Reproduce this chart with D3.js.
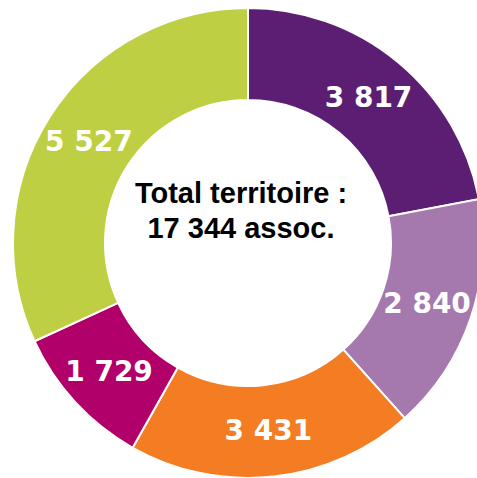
<!DOCTYPE html>
<html>
<head>
<meta charset="utf-8">
<script src="https://cdn.jsdelivr.net/npm/d3@7"></script>
<style>
  html, body { margin: 0; padding: 0; background: #ffffff; overflow: hidden; }
  svg { display: block; }
</style>
</head>
<body>
<div id="chart"></div>
<script>
const categories = ["A", "B", "C", "D", "E"];
const values = [3817, 2840, 3431, 1729, 5527];
const valueLabels = ["3 817", "2 840", "3 431", "1 729", "5 527"];
const colors = ["#5B1E72", "#A679AE", "#F47C22", "#B1006A", "#BFCF43"];
const centerLines = ["Total territoire :", "17 344 assoc."];

const W = 477, H = 478;
const cx = 248, cy = 243;
const outerR = 235, innerR = 143;

const svg = d3.select("#chart").append("svg")
  .attr("width", W).attr("height", H);

const data = categories.map((c, i) => ({ cat: c, value: values[i], label: valueLabels[i], color: colors[i] }));

const pie = d3.pie().value(d => d.value).sort(null);
const arc = d3.arc().innerRadius(innerR).outerRadius(outerR);
const labelArc = d3.arc().innerRadius((innerR + outerR) / 2).outerRadius((innerR + outerR) / 2);

const g = svg.append("g").attr("transform", `translate(${cx},${cy})`);
const arcs = pie(data);

g.selectAll("path.slice").data(arcs).join("path")
  .attr("class", "slice")
  .attr("d", arc)
  .attr("fill", d => d.data.color)
  .attr("stroke", "#ffffff")
  .attr("stroke-width", 2);

g.selectAll("text.val").data(arcs).join("text")
  .attr("class", "val")
  .attr("transform", d => `translate(${labelArc.centroid(d)})`)
  .attr("text-anchor", "middle")
  .attr("dominant-baseline", "central")
  .attr("font-family", "DejaVu Sans, Verdana, sans-serif")
  .attr("font-weight", "bold")
  .attr("font-size", 28)
  .attr("fill", "#ffffff")
  .text(d => d.data.label);

svg.append("g").selectAll("text.center").data(centerLines).join("text")
  .attr("class", "center")
  .attr("x", cx - 7)
  .attr("y", (d, i) => 203 + i * 35)
  .attr("text-anchor", "middle")
  .attr("font-family", "Liberation Sans, Arial, sans-serif")
  .attr("font-weight", "bold")
  .attr("font-size", 29)
  .attr("fill", "#000000")
  .text(d => d);
</script>
</body>
</html>
